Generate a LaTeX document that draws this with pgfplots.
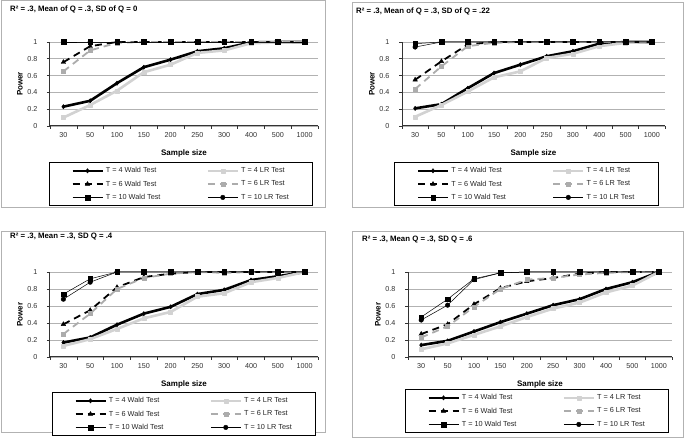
\documentclass[border=0pt]{standalone}
\usepackage{fontspec}
\setmainfont{Liberation Sans}
\usepackage{pgfplots}
\usepackage{pgfplotstable}
\pgfplotsset{compat=1.18}

\pgfplotstableread{
x w4 l4 w6 l6 w10 l10
0 0.23 0.10 0.76 0.65 1 1
1 0.30 0.25 0.95 0.90 1 1
2 0.51 0.42 1 0.99 1 1
3 0.70 0.64 1 1 1 1
4 0.79 0.73 1 1 1 1
5 0.89 0.87 1 1 1 1
6 0.925 0.90 1 1 1 1
7 0.995 0.985 1 1 1 1
8 1 0.995 1 1 1 1
9 1 1 1 1 1 1
}\tabA
\pgfplotstableread{
x w4 l4 w6 l6 w10 l10
0 0.21 0.11 0.55 0.44 0.98 0.94
1 0.26 0.25 0.77 0.71 1 1
2 0.45 0.41 0.97 0.95 1 1
3 0.63 0.58 1 0.99 1 1
4 0.73 0.65 1 1 1 1
5 0.83 0.81 1 1 1 1
6 0.89 0.86 1 1 1 1
7 0.98 0.95 1 1 1 1
8 1 0.99 1 1 1 1
9 1 1 1 1 1 1
}\tabB
\pgfplotstableread{
x w4 l4 w6 l6 w10 l10
0 0.17 0.13 0.385 0.27 0.74 0.68
1 0.23 0.21 0.55 0.51 0.92 0.88
2 0.38 0.33 0.82 0.80 1 1
3 0.51 0.455 0.94 0.93 1 1
4 0.59 0.53 0.98 0.98 1 1
5 0.74 0.71 1 1 1 1
6 0.79 0.75 1 0.99 1 1
7 0.905 0.88 1 1 1 1
8 0.95 0.93 1 1 1 1
9 1 1 1 1 1 1
}\tabC
\pgfplotstableread{
x w4 l4 w6 l6 w10 l10
0 0.14 0.09 0.27 0.23 0.47 0.435
1 0.19 0.16 0.385 0.36 0.68 0.61
2 0.30 0.26 0.62 0.59 0.92 0.91
3 0.41 0.36 0.81 0.80 0.99 0.99
4 0.51 0.47 0.89 0.91 1 1
5 0.61 0.57 0.93 0.93 1 1
6 0.68 0.64 0.98 0.97 1 1
7 0.80 0.76 1 0.99 1 1
8 0.88 0.84 1 1 1 1
9 1 1 1 1 1 1
}\tabD

\pgfplotsset{
 wald4/.style={black, line width=2.6pt, line join=round, mark=diamond*, mark size=2.2pt, mark options={solid, line width=0.4pt}},
 lr4/.style={gray!35, line width=2.6pt, line join=round, mark=square*, mark size=2pt, mark options={solid, line width=0.4pt}},
 wald6/.style={black, line width=1.8pt, dash pattern=on 7pt off 5pt, mark=triangle*, mark size=2.6pt, mark options={solid, line width=0.4pt}},
 lr6/.style={gray!65, line width=1.8pt, dash pattern=on 7pt off 5pt, mark=square*, mark size=2pt, mark options={solid, line width=0.4pt}},
 wald10/.style={black, line width=0.5pt, mark=square*, mark size=2.3pt, mark options={solid, line width=0.4pt}},
 lr10/.style={black, line width=0.5pt, mark=*, mark size=2.3pt, mark options={solid, line width=0.4pt}},
 panel/.style={
  scale only axis, xmin=-0.5, xmax=9.5, ymin=0, ymax=1,
  axis lines*=left, axis line style={black!80, line width=1pt},
  xtick={0,...,9}, xticklabels={30,50,100,150,200,250,300,400,500,1000},
  major x tick style={draw=none},
  minor xtick={-0.5,0.5,...,9.5},
  ytick={0,0.2,0.4,0.6,0.8,1}, yticklabels={0,0.2,0.4,0.6,0.8,1},
  tick align=outside, major tick length=3pt, minor tick length=3pt,
  tick style={black!80, line width=0.6pt},
  ymajorgrids, grid style={gray!60, line width=0.8pt},
  tick label style={font=\fontsize{7.2}{8}\selectfont, text=black!80},
  yticklabel style={xshift=-6pt},
  xlabel={Sample size}, ylabel={Power},
  label style={font=\bfseries\fontsize{8}{9}\selectfont},
  xlabel style={at={(axis description cs:0.5,0)}, anchor=center, yshift=-27pt},
  ylabel style={at={([xshift=-30pt]axis description cs:0,0.5)}, anchor=center},
  clip=false,
  legend columns=2,
  legend cell align=left,
  legend image code/.code={\draw[mark repeat=2,mark phase=2] plot coordinates {(0pt,0pt) (15pt,0pt) (30pt,0pt)};},
  legend style={draw=black, line width=0.9pt, at={(axis description cs:0.5,0)}, anchor=north,
    font=\fontsize{7.3}{8}\selectfont, text=black!85, inner xsep=22pt, inner ysep=3pt, row sep=2.5pt,
    /tikz/every even column/.append style={column sep=44pt}},
 }
}

\newcommand{\drawseries}[1]{%
  \addplot[wald4] table[x=x,y=w4] {#1};
  \addplot[lr4] table[x=x,y=l4] {#1};
  \addplot[wald6] table[x=x,y=w6] {#1};
  \addplot[lr6] table[x=x,y=l6] {#1};
  \addplot[wald10] table[x=x,y=w10] {#1};
  \addplot[lr10] table[x=x,y=l10] {#1};
  \legend{T = 4 Wald Test, T = 4 LR Test, T = 6 Wald Test, T = 6 LR Test, T = 10 Wald Test, T = 10 LR Test}
}

\begin{document}
\begin{tikzpicture}
\useasboundingbox[fill=white] (0,0) rectangle (685pt,441pt);
\draw[gray!60, line width=1pt] (1pt,440pt) rectangle (325pt,233pt);
\draw[gray!60, line width=1pt] (352pt,438pt) rectangle (683pt,233pt);
\draw[gray!60, line width=1pt] (1pt,209pt) rectangle (325pt,8pt);
\draw[gray!60, line width=1pt] (352pt,209pt) rectangle (683pt,3pt);
\node[anchor=west, font=\bfseries\fontsize{7.8}{9}\selectfont, inner sep=0pt] at (10pt,432pt) {R² = .3, Mean of Q = .3, SD of Q = 0};
\node[anchor=west, font=\bfseries\fontsize{7.8}{9}\selectfont, inner sep=0pt] at (356pt,430pt) {R² = .3, Mean of Q = .3, SD of Q = .22};
\node[anchor=west, font=\bfseries\fontsize{7.8}{9}\selectfont, inner sep=0pt] at (10pt,204pt) {R² = .3, Mean = .3, SD Q = .4};
\node[anchor=west, font=\bfseries\fontsize{7.8}{9}\selectfont, inner sep=0pt] at (362pt,201pt) {R² = .3, Mean Q = .3, SD Q = .6};

\begin{axis}[panel, at={(50pt,315pt)}, anchor=south west, width=268pt, height=84pt,
  legend style={yshift=-36pt, xshift=-3pt}]
\drawseries{\tabA}
\end{axis}
\begin{axis}[panel, at={(402pt,315pt)}, anchor=south west, width=263pt, height=84pt,
  legend style={yshift=-36pt, xshift=-7pt}]
\drawseries{\tabB}
\end{axis}
\begin{axis}[panel, at={(50pt,84pt)}, anchor=south west, width=268pt, height=85pt,
  legend style={yshift=-35pt, xshift=0pt}]
\drawseries{\tabC}
\end{axis}
\begin{axis}[panel, at={(408pt,84pt)}, anchor=south west, width=264pt, height=85pt,
  legend style={yshift=-32pt, xshift=-3pt}]
\drawseries{\tabD}
\end{axis}
\end{tikzpicture}
\end{document}
